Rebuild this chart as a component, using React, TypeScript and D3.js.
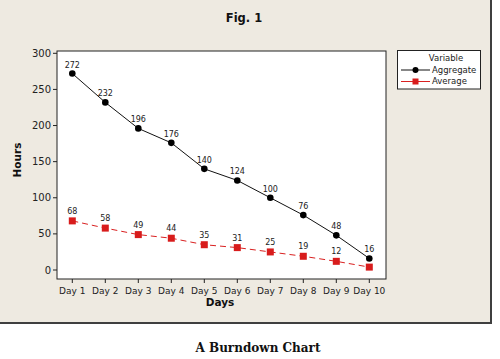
import React from "react";
import * as d3 from "d3";

const days = ["Day 1", "Day 2", "Day 3", "Day 4", "Day 5", "Day 6", "Day 7", "Day 8", "Day 9", "Day 10"];
const aggregate = [272, 232, 196, 176, 140, 124, 100, 76, 48, 16];
const average = [68, 58, 49, 44, 35, 31, 25, 19, 12, 4];
const averageLabels = ["68", "58", "49", "44", "35", "31", "25", "19", "12", ""];
const yTicks = [0, 50, 100, 150, 200, 250, 300];

const W = 500, H = 359;
const plot = { left: 57, top: 51, right: 386, bottom: 279 };

export default function App() {
  const x = d3.scalePoint<string>().domain(days).range([72.3, 369.3]);
  const y = d3.scaleLinear().domain([0, 300]).range([270, 53.3]);
  const line = d3.line<number>().x((_, i) => x(days[i])!).y((d) => y(d));
  const font = "Tahoma, 'DejaVu Sans', sans-serif";
  const bg = "#EEEAE1";
  return (
    <svg width={W} height={H} style={{ position: "absolute", left: 0, top: 0 }} fontFamily={font}>
      <rect x={0} y={0} width={W} height={H} fill="#fff" />
      <rect x={0} y={0} width={491} height={323} fill={bg} />
      <line x1={491} y1={0} x2={491} y2={324} stroke="#3f3f3f" strokeWidth={2} />
      <line x1={0} y1={323} x2={492} y2={323} stroke="#3f3f3f" strokeWidth={2} />
      <text x={244} y={22} textAnchor="middle" fontSize={11.5} fontWeight="bold" fill="#111">Fig. 1</text>
      <rect x={plot.left} y={plot.top} width={plot.right - plot.left} height={plot.bottom - plot.top} fill="#fff" stroke="#222" strokeWidth={1} />
      {yTicks.map((t) => (
        <g key={t}>
          <line x1={plot.left - 4} x2={plot.left} y1={y(t)} y2={y(t)} stroke="#222" />
          <text x={plot.left - 6} y={y(t) + 3.5} textAnchor="end" fontSize={10} fill="#222">{t}</text>
        </g>
      ))}
      {days.map((d) => (
        <g key={d}>
          <line x1={x(d)!} x2={x(d)!} y1={plot.bottom} y2={plot.bottom + 4} stroke="#222" />
          <text x={x(d)!} y={plot.bottom + 15} textAnchor="middle" fontSize={9} fill="#222">{d}</text>
        </g>
      ))}
      <text x={220} y={306} textAnchor="middle" fontSize={10.5} fontWeight="bold" fill="#111">Days</text>
      <text transform={`translate(21,160) rotate(-90)`} textAnchor="middle" fontSize={10.5} fontWeight="bold" fill="#111">Hours</text>

      <path d={line(average)!} fill="none" stroke="#d92020" strokeWidth={1} strokeDasharray="6,4" />
      {average.map((v, i) => (
        <rect key={i} x={x(days[i])! - 3.5} y={y(v) - 3.5} width={7} height={7} fill="#d81c1c" />
      ))}
      {average.map((v, i) => averageLabels[i] ? (
        <text key={i} x={x(days[i])!} y={y(v) - 7} textAnchor="middle" fontSize={8} fill="#222">{averageLabels[i]}</text>
      ) : null)}

      <path d={line(aggregate)!} fill="none" stroke="#111" strokeWidth={1} />
      {aggregate.map((v, i) => (
        <circle key={i} cx={x(days[i])!} cy={y(v)} r={3.3} fill="#000" />
      ))}
      {aggregate.map((v, i) => (
        <text key={i} x={x(days[i])!} y={y(v) - 6} textAnchor="middle" fontSize={8} fill="#222">{v}</text>
      ))}

      <rect x={397.5} y={50.5} width={83} height={38.5} fill="#fff" stroke="#222" />
      <text x={446} y={61} textAnchor="middle" fontSize={8.5} fill="#222">Variable</text>
      <line x1={401} x2={430} y1={70} y2={70} stroke="#111" />
      <circle cx={415.5} cy={70} r={3} fill="#000" />
      <text x={432} y={72.8} fontSize={8.5} fill="#222">Aggregate</text>
      <line x1={401} x2={430} y1={81.5} y2={81.5} stroke="#d92020" />
      <rect x={412.5} y={78.5} width={6} height={6} fill="#d81c1c" />
      <text x={432} y={84.3} fontSize={8.5} fill="#222">Average</text>

      <text x={258} y={352} textAnchor="middle" fontSize={12} fontWeight="bold" fontFamily="'DejaVu Serif', serif" fill="#111">A Burndown Chart</text>
    </svg>
  );
}
